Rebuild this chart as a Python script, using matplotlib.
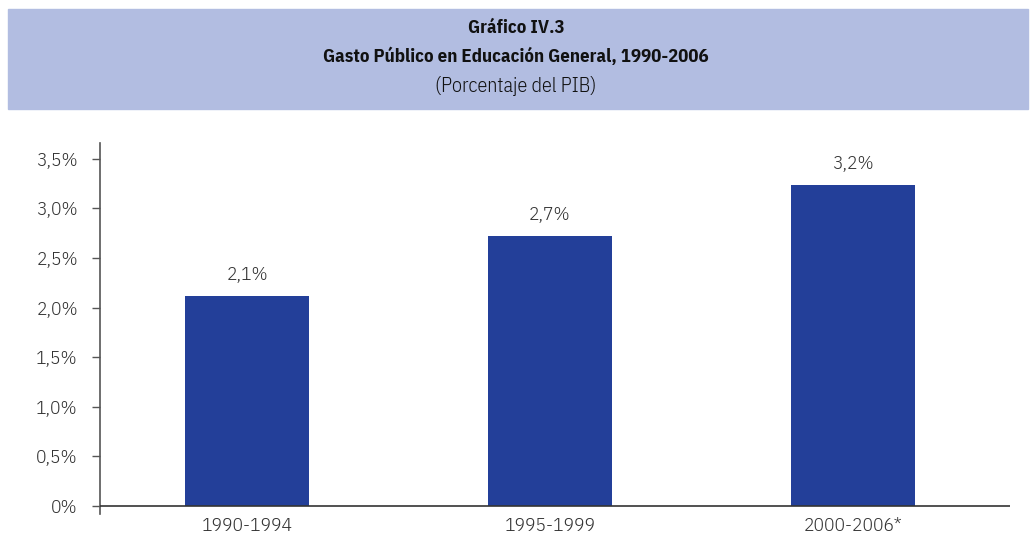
import matplotlib.pyplot as plt
from matplotlib.patches import Rectangle

periods = ["1990-1994", "1995-1999", "2000-2006*"]
gasto = [2.12, 2.72, 3.24]
etiquetas = ["2,1%", "2,7%", "3,2%"]
yticks = [0, 0.5, 1.0, 1.5, 2.0, 2.5, 3.0, 3.5]
ylabels = ["0%", "0,5%", "1,0%", "1,5%", "2,0%", "2,5%", "3,0%", "3,5%"]

plt.rcParams['font.family'] = ['IBM Plex Sans Condensed', 'DejaVu Sans']
plt.rcParams['font.weight'] = 300
txt = "#333333"
W, H = 1032, 535

fig = plt.figure(figsize=(W / 100, H / 100), dpi=100)

# banda del titulo
fig.patches.append(Rectangle((8 / W, 1 - 109 / H), 1020 / W, 100 / H,
                             transform=fig.transFigure, color="#b2bde1", zorder=0))
fig.text(516 / W, 1 - 28 / H, "Gráfico IV.3", ha="center", va="center",
         fontsize=13.5, fontweight=700, color="#111111")
fig.text(516 / W, 1 - 57 / H, "Gasto Público en Educación General, 1990-2006", ha="center",
         va="center", fontsize=13.5, fontweight=700, color="#111111")
fig.text(516 / W, 1 - 86 / H, "(Porcentaje del PIB)", ha="center", va="center",
         fontsize=14.5, fontweight=300, color="#111111")

ax = fig.add_axes([100 / W, 21 / H, 910 / W, (514 - 143) / H])
x = range(len(periods))
ax.bar(x, gasto, width=0.41, color="#233f99", zorder=2)
for i in x:
    ax.text(i, gasto[i] + 0.12, etiquetas[i], ha="center", va="bottom", fontsize=14,
            fontweight=300, color=txt)

ax.axhline(0, color="#333333", lw=1.2, zorder=3)
ax.set_xlim(-0.486, 2.52)
ax.set_ylim(-0.08, 3.66)
ax.set_yticks(yticks)
ax.set_yticklabels(ylabels)
ax.set_xticks(list(x))
ax.set_xticklabels(periods)
for s in ["top", "right", "bottom"]:
    ax.spines[s].set_visible(False)
ax.spines["left"].set_color("#555555")
ax.spines["left"].set_linewidth(1.2)
ax.tick_params(axis="y", length=6, width=1, color="#555555", labelsize=14, labelcolor=txt, pad=10)
ax.tick_params(axis="x", length=0, labelsize=14, labelcolor=txt, pad=2)

fig.savefig("out.png", dpi=100)
